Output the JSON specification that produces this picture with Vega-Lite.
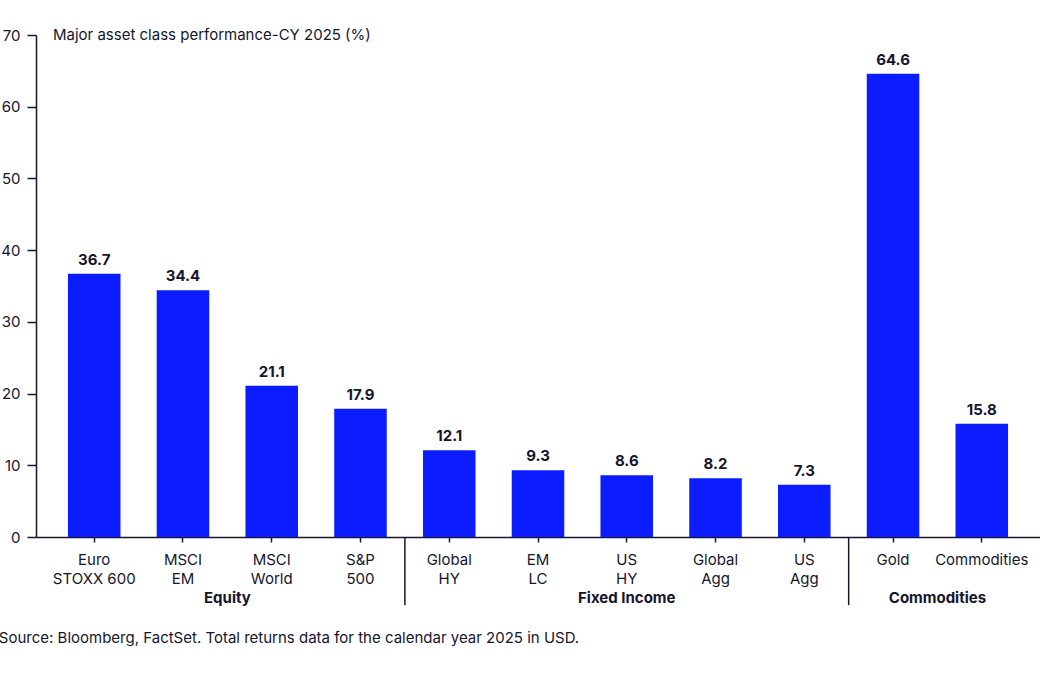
{
  "$schema": "https://vega.github.io/schema/vega-lite/v6.json",
  "autosize": "none",
  "width": 1004,
  "height": 502,
  "padding": {"left": 36, "top": 35, "right": 0, "bottom": 141},
  "background": "white",
  "config": {
    "view": {"stroke": null},
    "font": "Inter",
    "text": {"font": "Inter", "color": "#15152e"},
    "axis": {"labelFont": "Inter", "labelColor": "#15152e", "domainColor": "#15152e", "tickColor": "#15152e"}
  },
  "title": {
    "text": "Source: Bloomberg, FactSet. Total returns data for the calendar year 2025 in USD.",
    "orient": "bottom",
    "anchor": "start",
    "frame": "bounds",
    "offset": 25,
    "fontSize": 15,
    "fontWeight": "normal",
    "font": "Inter",
    "color": "#15152e",
    "dx": -2
  },
  "datasets": {
    "assets": [
      {"name": "Euro STOXX 600", "value": 36.7, "group": "Equity"},
      {"name": "MSCI EM", "value": 34.4, "group": "Equity"},
      {"name": "MSCI World", "value": 21.1, "group": "Equity"},
      {"name": "S&P 500", "value": 17.9, "group": "Equity"},
      {"name": "Global HY", "value": 12.1, "group": "Fixed Income"},
      {"name": "EM LC", "value": 9.3, "group": "Fixed Income"},
      {"name": "US HY", "value": 8.6, "group": "Fixed Income"},
      {"name": "Global Agg", "value": 8.2, "group": "Fixed Income"},
      {"name": "US Agg", "value": 7.3, "group": "Fixed Income"},
      {"name": "Gold", "value": 64.6, "group": "Commodities"},
      {"name": "Commodities", "value": 15.8, "group": "Commodities"}
    ],
    "groupsBetween": [
      {"anchor": "MSCI EM", "label": "Equity"},
      {"anchor": "Gold", "label": "Commodities"}
    ],
    "groupsCentered": [
      {"anchor": "US HY", "label": "Fixed Income"}
    ],
    "separators": [
      {"anchor": "S&P 500"},
      {"anchor": "US Agg"}
    ],
    "heading": [
      {"anchor": "Euro STOXX 600", "label": "Major asset class performance-CY 2025 (%)"}
    ]
  },
  "encoding": {
    "x": {
      "field": "name",
      "type": "nominal",
      "sort": null,
      "scale": {
        "domain": ["Euro STOXX 600", "MSCI EM", "MSCI World", "S&P 500", "Global HY", "EM LC", "US HY", "Global Agg", "US Agg", "Gold", "Commodities"],
        "paddingInner": 0.408,
        "paddingOuter": 0.36
      },
      "axis": {
        "title": null,
        "labelAngle": 0,
        "labelFontSize": 15,
        "labelPadding": 10,
        "labelLineHeight": 19,
        "tickSize": 5,
        "tickWidth": 1.5,
        "domainWidth": 1.5,
        "labelExpr": "indexof(datum.label, ' ') >= 0 ? [substring(datum.label, 0, indexof(datum.label, ' ')), substring(datum.label, indexof(datum.label, ' ') + 1)] : datum.label"
      }
    }
  },
  "layer": [
    {
      "data": {"name": "assets"},
      "mark": {"type": "bar", "color": "#0b1cff"},
      "encoding": {
        "y": {
          "field": "value",
          "type": "quantitative",
          "scale": {"domain": [0, 70], "nice": false},
          "axis": {
            "title": null,
            "grid": false,
            "values": [0, 10, 20, 30, 40, 50, 60, 70],
            "tickSize": 9,
            "tickWidth": 1.5,
            "domainWidth": 1.5,
            "labelPadding": 7,
            "labelFontSize": 15
          }
        }
      }
    },
    {
      "data": {"name": "assets"},
      "mark": {"type": "text", "baseline": "bottom", "dy": -6, "fontSize": 15, "fontWeight": "bold"},
      "encoding": {
        "y": {"field": "value", "type": "quantitative"},
        "text": {"field": "value", "type": "quantitative", "format": ".1f"}
      }
    },
    {
      "data": {"name": "groupsBetween"},
      "mark": {"type": "text", "baseline": "middle", "fontSize": 15, "fontWeight": "bold"},
      "encoding": {
        "x": {"field": "anchor", "type": "nominal", "bandPosition": 1.345},
        "y": {"datum": -8.5},
        "text": {"field": "label"}
      }
    },
    {
      "data": {"name": "groupsCentered"},
      "mark": {"type": "text", "baseline": "middle", "fontSize": 15, "fontWeight": "bold"},
      "encoding": {
        "x": {"field": "anchor", "type": "nominal", "bandPosition": 0.5},
        "y": {"datum": -8.5},
        "text": {"field": "label"}
      }
    },
    {
      "data": {"name": "separators"},
      "mark": {"type": "rule", "color": "#15152e", "strokeWidth": 1.5},
      "encoding": {
        "x": {"field": "anchor", "type": "nominal", "bandPosition": 1.345},
        "y": {"datum": 0},
        "y2": {"datum": -9.5}
      }
    },
    {
      "data": {"name": "heading"},
      "mark": {"type": "text", "align": "left", "baseline": "middle", "dx": -15, "fontSize": 15},
      "encoding": {
        "x": {"field": "anchor", "type": "nominal", "bandPosition": 0},
        "y": {"datum": 70},
        "text": {"field": "label"}
      }
    }
  ]
}
